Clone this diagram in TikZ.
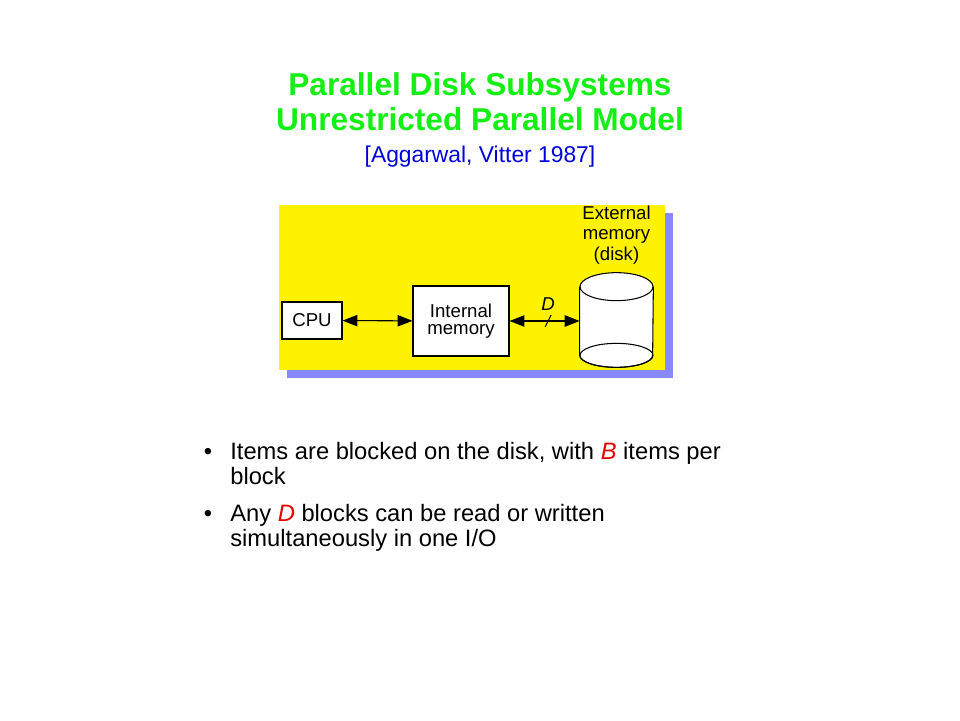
\documentclass[tikz,border=0pt]{standalone}
\usepackage{fontspec}
\setmainfont{Liberation Sans}
\usetikzlibrary{arrows.meta,positioning}
\definecolor{titlegreen}{RGB}{20,240,20}
\definecolor{citeblue}{RGB}{0,0,220}
\definecolor{shadowblue}{RGB}{136,136,255}
\definecolor{itemred}{RGB}{230,0,0}
\tikzset{
  box/.style={draw, fill=white, line width=0.6pt, inner sep=0pt, align=center,
    font=\fontsize{10.6}{9.9}\selectfont},
  biarrow/.style={line width=0.6pt,
    {Triangle[length=8.5pt,width=6.5pt]}-{Triangle[length=8.5pt,width=6.5pt]}},
  titletext/.style={anchor=base, inner sep=0pt, text=titlegreen,
    font=\fontsize{18}{21}\selectfont\bfseries},
  itemtext/.style={anchor=base west, inner sep=0pt, align=left,
    font=\fontsize{13.5}{14.2}\selectfont},
  bullet/.style={anchor=base, inner sep=0pt, font=\fontsize{13.5}{14.2}\selectfont}
}
\begin{document}
\begin{tikzpicture}[x=0.02cm, y=-0.02cm]
\fill[white] (0,0) rectangle (960,720);

\node[titletext] (T1) at (480,95) {Parallel Disk Subsystems};
\node[titletext] (T2) at (480,130) {Unrestricted Parallel Model};
\node[anchor=base, inner sep=0pt, text=citeblue, font=\fontsize{13}{15}\selectfont]
  (T3) at (480,162) {[Aggarwal, Vitter 1987]};

\fill[shadowblue] (287,213) rectangle (673,378);
\fill[yellow] (279,205) rectangle (665,370);

\node[box, minimum width=1.2cm, minimum height=0.74cm] (cpu) at (312,320.5) {CPU};
\node[box, minimum width=1.92cm, minimum height=1.4cm] (mem) at (461,321) {Internal\\memory};
\node[minimum width=1.46cm, minimum height=1.36cm, inner sep=0pt] (disk) at (616.5,321) {};
\fill[white] (disk.north west) -- (disk.south west)
  arc[start angle=180, end angle=360, x radius=0.73cm, y radius=0.24cm]
  -- (disk.north east)
  arc[start angle=0, end angle=180, x radius=0.73cm, y radius=0.28cm] -- cycle;
\draw[line width=0.6pt] (disk.north west) -- (disk.south west)
  arc[start angle=180, end angle=360, x radius=0.73cm, y radius=0.24cm]
  -- (disk.north east);
\draw[line width=0.6pt] (disk.north) ellipse[x radius=0.73cm, y radius=0.28cm];
\draw[line width=0.6pt] (disk.south) ellipse[x radius=0.73cm, y radius=0.24cm];
\node[inner sep=0pt, align=center, above=0.44cm of disk.north,
  font=\fontsize{10.6}{11.7}\selectfont] (ext) {External\\memory\\(disk)};

\path[biarrow]
(cpu) edge (mem)
(mem) edge node[pos=0.55, inner sep=0pt] (cut) {}
           node[pos=0.55, anchor=base, inner sep=0pt, yshift=0.22cm,
             font=\fontsize{10.6}{12}\selectfont] (dlab) {\textit{D}} (disk);
\draw[line width=0.6pt] ([shift={(-3,6)}]cut.center) -- ([shift={(3,-6)}]cut.center);

\node[bullet] (B1) at (208,459) {•};
\node[itemtext] (I1) at (230,484)
  {Items are blocked on the disk, with \textcolor{itemred}{\textit{B}} items per\\block};
\node[bullet] (B2) at (208,521) {•};
\node[itemtext] (I2) at (230,546)
  {Any \textcolor{itemred}{\textit{D}} blocks can be read or written\\simultaneously in one I/O};
\end{tikzpicture}
\end{document}
